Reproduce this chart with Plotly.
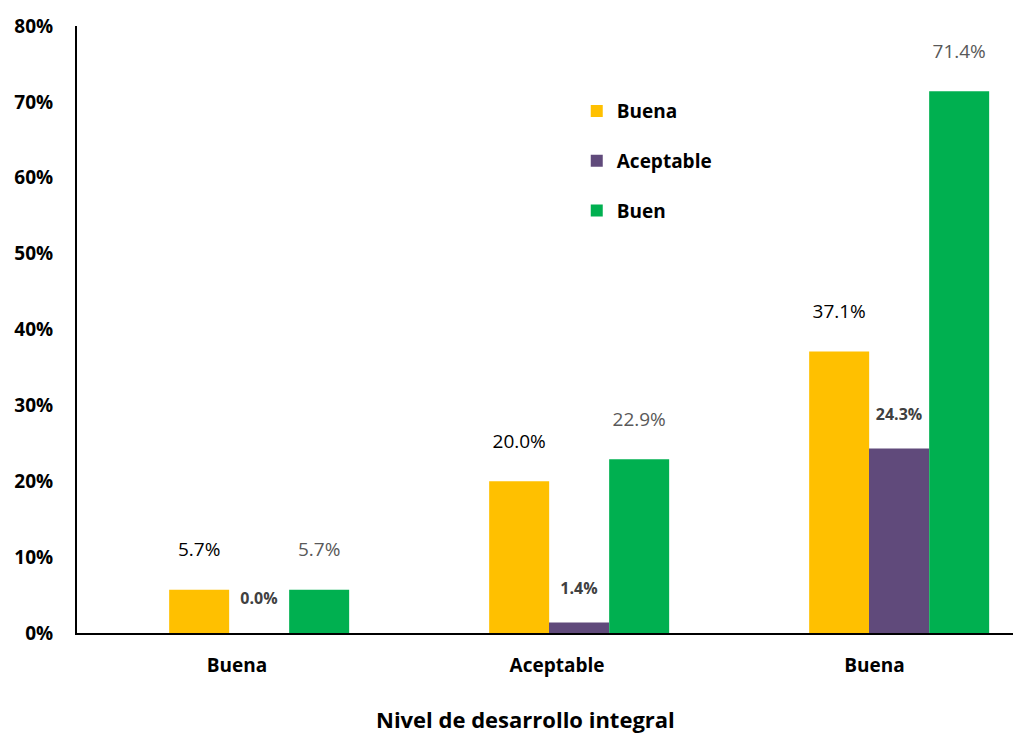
import plotly.graph_objects as go

categories = ["Buena", "Aceptable", "Buena "]
series_names = ["Buena", "Aceptable", "Buen"]
buena_vals = [5.7, 20.0, 37.1]
aceptable_vals = [0.0, 1.4, 24.3]
buen_vals = [5.7, 22.9, 71.4]
y_ticks = [0, 10, 20, 30, 40, 50, 60, 70, 80]

colors = ["#FFC000", "#604A7B", "#00B050"]
label_colors = ["#000000", "#404040", "#595959"]
label_bold = [False, True, False]
label_sizes = [19, 16, 19]
bar_offsets = [-0.212, -0.025, 0.163]
BAR_W = 0.1875

FONT = "Open Sans"
fig = go.Figure()
for name, vals, col, lc, lb, ls, off in zip(series_names, [buena_vals, aceptable_vals, buen_vals],
                                             colors, label_colors, label_bold, label_sizes, bar_offsets):
    fig.add_trace(go.Bar(
        x=categories, y=vals, name=name, legendgroup=name,
        offset=off, width=BAR_W,
        marker=dict(color=col, line=dict(width=0)),
        text=[(f"<b>{v:.1f}%</b>" if lb else f"{v:.1f}%") + "<br> " for v in vals],
        textposition="outside",
        textfont=dict(family=FONT, size=ls, color=lc),
        cliponaxis=False,
    ))

fig.add_annotation(text="<b>Nivel de desarrollo integral</b>", xref="paper", yref="paper",
                   x=0.4746, y=0, yshift=-86, xanchor="center", yanchor="middle", showarrow=False,
                   font=dict(family=FONT, size=22, color="#000000"))

fig.update_layout(
    width=1013, height=728,
    margin=dict(l=69, r=0, t=18, b=103),
    paper_bgcolor="white", plot_bgcolor="white",
    barmode="overlay",
    showlegend=True,
    legend=dict(x=0.5294, y=0.891, xanchor="left", yanchor="top",
                font=dict(family=FONT, size=19, color="#000000", weight="bold"),
                tracegroupgap=22, bgcolor="rgba(0,0,0,0)", itemwidth=30),
    xaxis=dict(range=[-0.5, 2.45], showline=True, linecolor="#000000", linewidth=2,
               automargin=False, ticks="", ticklabelstandoff=14,
               tickfont=dict(family=FONT, size=19, color="#000000", weight="bold")),
    yaxis=dict(range=[0, 80], tickvals=y_ticks, ticktext=[f"<b>{t}%</b>" for t in y_ticks],
               showgrid=False, zeroline=False, showline=True, linecolor="#000000", linewidth=2,
               automargin=False, ticks="", ticklabelstandoff=18,
               tickfont=dict(family=FONT, size=19, color="#000000")),
)

fig.write_html("out.html")
